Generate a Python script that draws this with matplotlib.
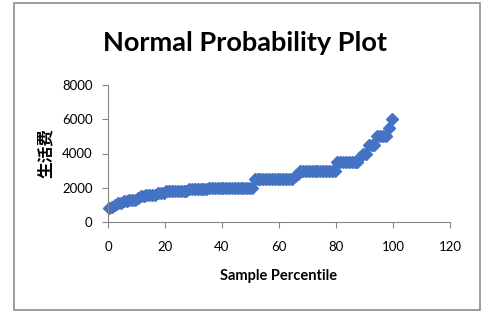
import numpy as np
import matplotlib.pyplot as plt
from matplotlib.patches import Rectangle

# sorted sample of living expenses (生活费), n = 100
living_cost = [
    800, 900, 1000, 1100, 1100, 1200, 1200, 1300, 1300, 1300,
    1400, 1500, 1500, 1600, 1600, 1600, 1600, 1700, 1700, 1700,
    1800, 1800, 1800, 1800, 1800, 1800, 1800, 1800, 1900, 1900,
    1900, 1900, 1900, 1900, 1900, 2000, 2000, 2000, 2000, 2000,
    2000, 2000, 2000, 2000, 2000, 2000, 2000, 2000, 2000, 2000,
    2000, 2500, 2500, 2500, 2500, 2500, 2500, 2500, 2500, 2500,
    2500, 2500, 2500, 2500, 2500, 2700, 2800, 3000, 3000, 3000,
    3000, 3000, 3000, 3000, 3000, 3000, 3000, 3000, 3000, 3000,
    3500, 3500, 3500, 3500, 3500, 3500, 3500, 3500, 3800, 4000,
    4000, 4500, 4500, 4500, 5000, 5000, 5000, 5000, 5500, 6000,
]
x_ticks = [0, 20, 40, 60, 80, 100, 120]
y_ticks = [0, 2000, 4000, 6000, 8000]
title = "Normal Probability Plot"
x_label = "Sample Percentile"
y_label = "生活费"

n = len(living_cost)
percentile = [100 * (i - 0.5) / n for i in range(1, n + 1)]

plt.rcParams['font.family'] = ['Lato', 'Noto Sans CJK SC', 'DejaVu Sans']

fig = plt.figure(figsize=(4.95, 3.23), dpi=100)
fig.patches.append(Rectangle((14 / 495, 1 - 310 / 323), 466 / 495, 307 / 323,
                             transform=fig.transFigure, fill=False,
                             edgecolor='#8c8c8c', linewidth=1.2))

ax = fig.add_axes([108 / 495, 1 - 222 / 323, 342 / 495, 137 / 323])
ax.plot(percentile, living_cost, linestyle='none', marker='D', markersize=6,
        color='#4472C4', markeredgecolor='#4472C4', clip_on=False)

ax.set_xlim(0, 120)
ax.set_ylim(0, 8000)
ax.set_xticks(x_ticks)
ax.set_yticks(y_ticks)
for s in ['top', 'right']:
    ax.spines[s].set_visible(False)
for s in ['left', 'bottom']:
    ax.spines[s].set_color('#868686')
ax.tick_params(direction='out', length=4, color='#868686', labelsize=9.5)
ax.tick_params(axis='y', pad=7)
ax.tick_params(axis='x', pad=10)

ax.set_xlabel(x_label, fontsize=10.5, fontweight='bold', labelpad=11)
ax.set_ylabel(y_label, fontsize=12, fontweight='bold', labelpad=6)
fig.text(245 / 495, 1 - 43 / 323, title, fontsize=19.5, fontweight='bold',
         ha='center', va='center')

fig.savefig('out.png', dpi=100)
